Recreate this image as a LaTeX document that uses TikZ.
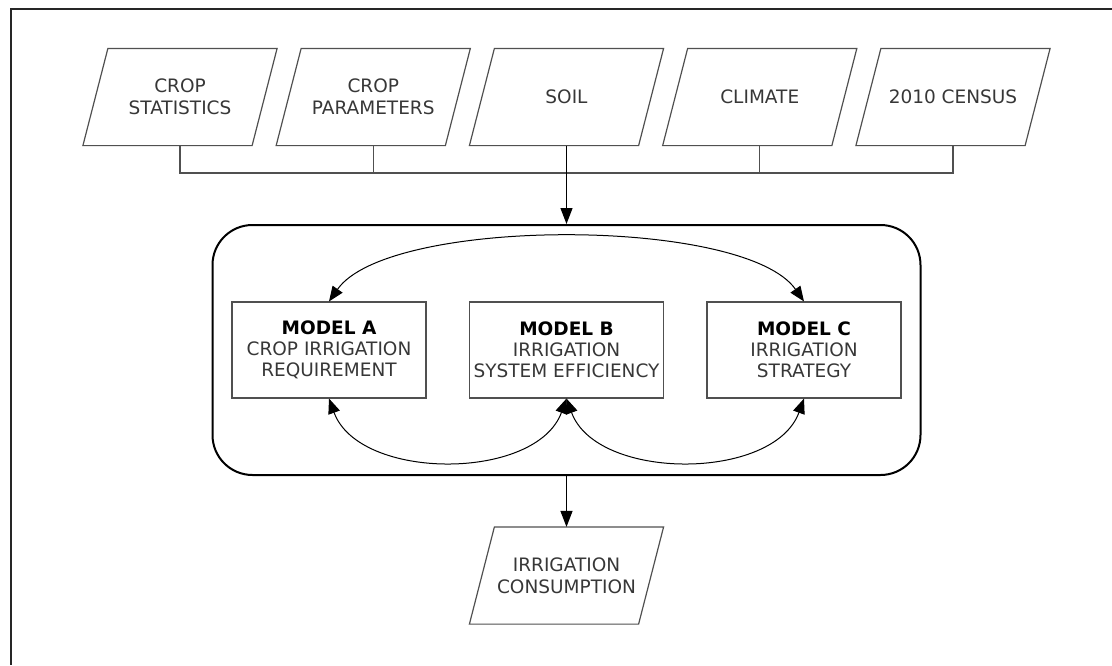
\documentclass[tikz,border=0pt]{standalone}
\usepackage{fontspec}
\setmainfont{DejaVu Sans}
\usepackage{tikz}
\usetikzlibrary{arrows.meta}
\usetikzlibrary{positioning}

\definecolor{boxline}{RGB}{80,80,80}
\definecolor{txt}{RGB}{55,55,55}

\tikzset{
  input/.style={minimum width=168pt,minimum height=96pt,inner sep=2pt,align=center,text=txt,
    font=\fontsize{18.5}{22}\selectfont},
  model/.style={draw=boxline,line width=1.1pt,minimum width=194pt,minimum height=96pt,inner sep=2pt,
    align=center,text=txt,font=\fontsize{18.5}{21}\selectfont},
  group/.style={draw=black,line width=2pt,rounded corners=40pt,minimum width=708pt,minimum height=250pt},
  loop/.style={{Triangle[length=15pt,width=12pt]}-{Triangle[length=15pt,width=12pt]},line width=1pt,black}
}

\begin{document}
\begin{tikzpicture}[-{Triangle[length=16pt,width=12pt]},node distance=193.25pt,line width=1.2pt]
\useasboundingbox (0,0) rectangle (1112pt,-665pt);
\draw[-,line width=2.5pt,black!85] (1112pt,-9pt) -- (11pt,-9pt) -- (11pt,-665pt);

\node[input] (stat) at (180pt,-97pt) {CROP\\STATISTICS};
\node[input] (param) [right of=stat] {CROP\\PARAMETERS};
\node[input] (soil) [right of=param] {SOIL};
\node[input] (clim) [right of=soil] {CLIMATE};
\node[input] (census) [right of=clim] {2010 CENSUS};

\node[model] (modb) [below of=soil,node distance=253pt] {{\color{black}\textbf{MODEL B}}\\IRRIGATION\\SYSTEM EFFICIENCY};
\node[model] (moda) [left of=modb,node distance=237.5pt] {{\color{black}\textbf{MODEL A}}\\CROP IRRIGATION\\REQUIREMENT};
\node[model] (modc) [right of=modb,node distance=237.5pt] {{\color{black}\textbf{MODEL C}}\\IRRIGATION\\STRATEGY};
\node[group] (core) at (modb) {};
\node[input] (cons) [below of=modb,node distance=225.5pt] {IRRIGATION\\CONSUMPTION};

\foreach \n in {stat,param,soil,clim,census,cons}
  \draw[-,boxline] ([xshift=12.5pt]\n.north west) -- ([xshift=12.5pt]\n.north east)
    -- ([xshift=-12.5pt]\n.south east) -- ([xshift=-12.5pt]\n.south west) -- cycle;

\coordinate (bus) at (0,-173pt);
\draw[-,boxline] (stat.south) |- (bus -| census) -- (census.south);
\draw[-,boxline] (param.south) -- (param.south |- bus);
\draw[-,boxline] (clim.south) -- (clim.south |- bus);
\draw (soil.south) -- (core.north);

\path[loop] (moda.north) edge[out=55,in=125,looseness=0.56] (modc.north)
  (moda.south) edge[out=-70,in=-110,looseness=0.95] (modb.south)
  (modb.south) edge[out=-70,in=-110,looseness=0.95] (modc.south);

\draw (core.south) -- (cons.north);
\end{tikzpicture}
\end{document}
